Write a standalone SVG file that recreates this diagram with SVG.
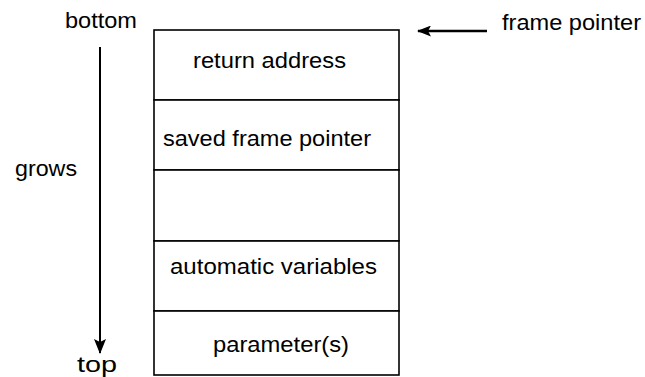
<svg xmlns="http://www.w3.org/2000/svg" width="645" height="377" viewBox="0 0 645 377">
<defs>
<marker id="ah" markerWidth="15" markerHeight="12" refX="14" refY="6" orient="auto" markerUnits="userSpaceOnUse" viewBox="0 0 15 12">
<path d="M0,0 L15,6 L0,12 L3,6 Z" fill="#000"/>
</marker>
<marker id="ah2" markerWidth="14" markerHeight="11" refX="13" refY="5.5" orient="auto" markerUnits="userSpaceOnUse" viewBox="0 0 14 11">
<path d="M0,0 L14,5.5 L0,11 L3,5.5 Z" fill="#000"/>
</marker>
</defs>
<style>
text{font-family:"Liberation Sans",Arial,sans-serif;font-size:22px;fill:#000}
.cell{fill:#fff;stroke:#000;stroke-width:1.6}
.conn{stroke:#000;fill:none}
</style>
<rect width="645" height="377" fill="#fff"/>
<g id="stack">
<g id="return-address"><rect class="cell" x="154" y="30" width="245" height="70"/><text x="193" y="68" textLength="153" lengthAdjust="spacingAndGlyphs">return address</text></g>
<g id="saved-frame-pointer"><rect class="cell" x="154" y="100" width="245" height="70"/><text x="163" y="146" textLength="208" lengthAdjust="spacingAndGlyphs">saved frame pointer</text></g>
<g id="empty"><rect class="cell" x="154" y="170" width="245" height="71"/></g>
<g id="automatic-variables"><rect class="cell" x="154" y="241" width="245" height="70"/><text x="170" y="274" textLength="207" lengthAdjust="spacingAndGlyphs">automatic variables</text></g>
<g id="parameters"><rect class="cell" x="154" y="311" width="245" height="64"/><text x="213" y="352" textLength="136" lengthAdjust="spacingAndGlyphs">parameter(s)</text></g>
</g>
<g id="labels">
<text x="65" y="28" textLength="72" lengthAdjust="spacingAndGlyphs">bottom</text>
<text x="15" y="176" textLength="62" lengthAdjust="spacingAndGlyphs">grows</text>
<text x="77" y="372" textLength="40" lengthAdjust="spacingAndGlyphs">top</text>
<text x="502" y="30" textLength="139" lengthAdjust="spacingAndGlyphs">frame pointer</text>
</g>
<g id="connectors">
<line class="conn" x1="100" y1="47" x2="100" y2="353" stroke-width="2" marker-end="url(#ah)"/>
<line class="conn" x1="487" y1="31" x2="418" y2="31" stroke-width="2.6" marker-end="url(#ah2)"/>
</g>
</svg>
